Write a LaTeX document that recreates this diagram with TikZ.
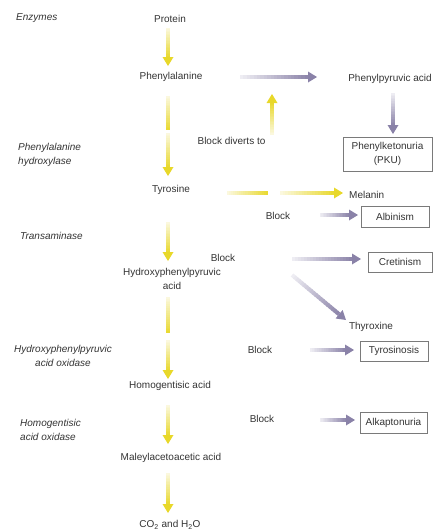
\documentclass[tikz,border=0pt]{standalone}
\usepackage{fontspec}
\setmainfont{Liberation Sans}
\usetikzlibrary{calc}
\definecolor{ylw}{HTML}{E8D82A}
\definecolor{ylwpale}{HTML}{FBF8DE}
\definecolor{prp}{HTML}{8A82A8}
\definecolor{prppale}{HTML}{EEEDF3}
\definecolor{txt}{HTML}{333333}
\definecolor{boxc}{HTML}{7A7A7A}
\newcommand\gradbar[4]{%
  \foreach \i in {0,...,19}{%
    \pgfmathtruncatemacro\pc{100-5*\i}%
    \draw[line width=4pt, color=#3!\pc!#4] ($(#1)!{\i/20}!(#2)$) -- ($(#1)!{min(1,(\i+1.4)/20)}!(#2)$);
  }}
\newcommand\gradarrow[4]{%
  \coordinate (gab) at ($(#2)!9pt!(#1)$);
  \gradbar{#1}{gab}{#3}{#4}%
  \fill[#4] (#2) -- ($(gab)!5.5pt!90:(#2)$) -- ($(gab)!5.5pt!-90:(#2)$) -- cycle;
}
\tikzset{
  lbl/.style={text=txt, font=\fontsize{10}{14}\selectfont, inner sep=0pt, align=center},
  enz/.style={lbl, font=\fontsize{10}{14}\selectfont\itshape},
  dis/.style={lbl, draw=boxc, line width=0.6pt}
}
\begin{document}
\begin{tikzpicture}[x=1pt,y=-1pt]
\useasboundingbox (0,0) rectangle (435,531);
% enzymes
\node[enz, anchor=west] (enzymes) at (16,18) {Enzymes};
\node[enz, anchor=west, align=left] (pah) at (18,155) {Phenylalanine\\hydroxylase};
\node[enz, anchor=west] (trans) at (20,236) {Transaminase};
\node[enz] (hpao) at (63,355.5) {Hydroxyphenylpyruvic\\acid oxidase};
\node[enz, anchor=west, align=left] (hgao) at (20,429.5) {Homogentisic\\acid oxidase};
% main chain
\node[lbl] (protein) at (170,19) {Protein};
\node[lbl] (phe) at (171,77) {Phenylalanine};
\node[lbl] (tyr) at (171,190) {Tyrosine};
\node[lbl] (hpp) at (172,278.5) {Hydroxyphenylpyruvic\\acid};
\node[lbl] (hga) at (170,386) {Homogentisic acid};
\node[lbl] (maa) at (171,458) {Maleylacetoacetic acid};
\node[lbl] (co2) at (170,525) {CO\textsubscript{2} and H\textsubscript{2}O};
% side products
\node[lbl] (ppa) at (390,79) {Phenylpyruvic acid};
\node[lbl] (divert) at (231.5,141) {Block diverts to};
\node[lbl, anchor=west] (melanin) at (349,195) {Melanin};
\node[lbl] (thyrox) at (371,327) {Thyroxine};
\node[lbl] (blk1) at (278,216) {Block};
\node[lbl] (blk2) at (223,258) {Block};
\node[lbl] (blk3) at (260,350) {Block};
\node[lbl] (blk4) at (262,419) {Block};
% disease boxes
\node[dis, minimum width=89pt, minimum height=34pt] (pku) at (387.5,154) {Phenylketonuria\\(PKU)};
\node[dis, minimum width=68pt, minimum height=21pt] (albin) at (395,216.5) {Albinism};
\node[dis, minimum width=64pt, minimum height=20pt] (cret) at (400,262) {Cretinism};
\node[dis, minimum width=68pt, minimum height=20pt] (tyrsis) at (394,351) {Tyrosinosis};
\node[dis, minimum width=67pt, minimum height=21pt] (alk) at (393.5,422.5) {Alkaptonuria};
% arrow end coordinates
\coordinate (y1s) at (168,28);  \coordinate (y1e) at (168,66);
\coordinate (y2s) at (168,96);  \coordinate (y2e) at (168,130);
\coordinate (y3s) at (168,133); \coordinate (y3e) at (168,176);
\coordinate (y4s) at (272,135); \coordinate (y4e) at (272,94);
\coordinate (y5s) at (227,193); \coordinate (y5e) at (268,193);
\coordinate (y6s) at (280,193); \coordinate (y6e) at (343,193);
\coordinate (y7s) at (168,222); \coordinate (y7e) at (168,261);
\coordinate (y8s) at (168,297); \coordinate (y8e) at (168,333);
\coordinate (y9s) at (168,340); \coordinate (y9e) at (168,379);
\coordinate (y10s) at (168,405); \coordinate (y10e) at (168,444);
\coordinate (y11s) at (168,473); \coordinate (y11e) at (168,513);
\coordinate (p1s) at (240,77);  \coordinate (p1e) at (317,77);
\coordinate (p2s) at (393,93);  \coordinate (p2e) at (393,134);
\coordinate (p3s) at (320,215); \coordinate (p3e) at (358,215);
\coordinate (p4s) at (292,259); \coordinate (p4e) at (361,259);
\coordinate (p5s) at (292,275); \coordinate (p5e) at (346,320);
\coordinate (p6s) at (310,350); \coordinate (p6e) at (354,350);
\coordinate (p7s) at (320,420); \coordinate (p7e) at (355,420);
% yellow arrows
\gradarrow{y1s}{y1e}{ylwpale}{ylw}
\gradbar{y2s}{y2e}{ylwpale}{ylw}
\gradarrow{y3s}{y3e}{ylwpale}{ylw}
\gradarrow{y4s}{y4e}{ylwpale}{ylw}
\gradbar{y5s}{y5e}{ylwpale}{ylw}
\gradarrow{y6s}{y6e}{ylwpale}{ylw}
\gradarrow{y7s}{y7e}{ylwpale}{ylw}
\gradbar{y8s}{y8e}{ylwpale}{ylw}
\gradarrow{y9s}{y9e}{ylwpale}{ylw}
\gradarrow{y10s}{y10e}{ylwpale}{ylw}
\gradarrow{y11s}{y11e}{ylwpale}{ylw}
% purple arrows
\gradarrow{p1s}{p1e}{prppale}{prp}
\gradarrow{p2s}{p2e}{prppale}{prp}
\gradarrow{p3s}{p3e}{prppale}{prp}
\gradarrow{p4s}{p4e}{prppale}{prp}
\gradarrow{p5s}{p5e}{prppale}{prp}
\gradarrow{p6s}{p6e}{prppale}{prp}
\gradarrow{p7s}{p7e}{prppale}{prp}
\end{tikzpicture}
\end{document}
